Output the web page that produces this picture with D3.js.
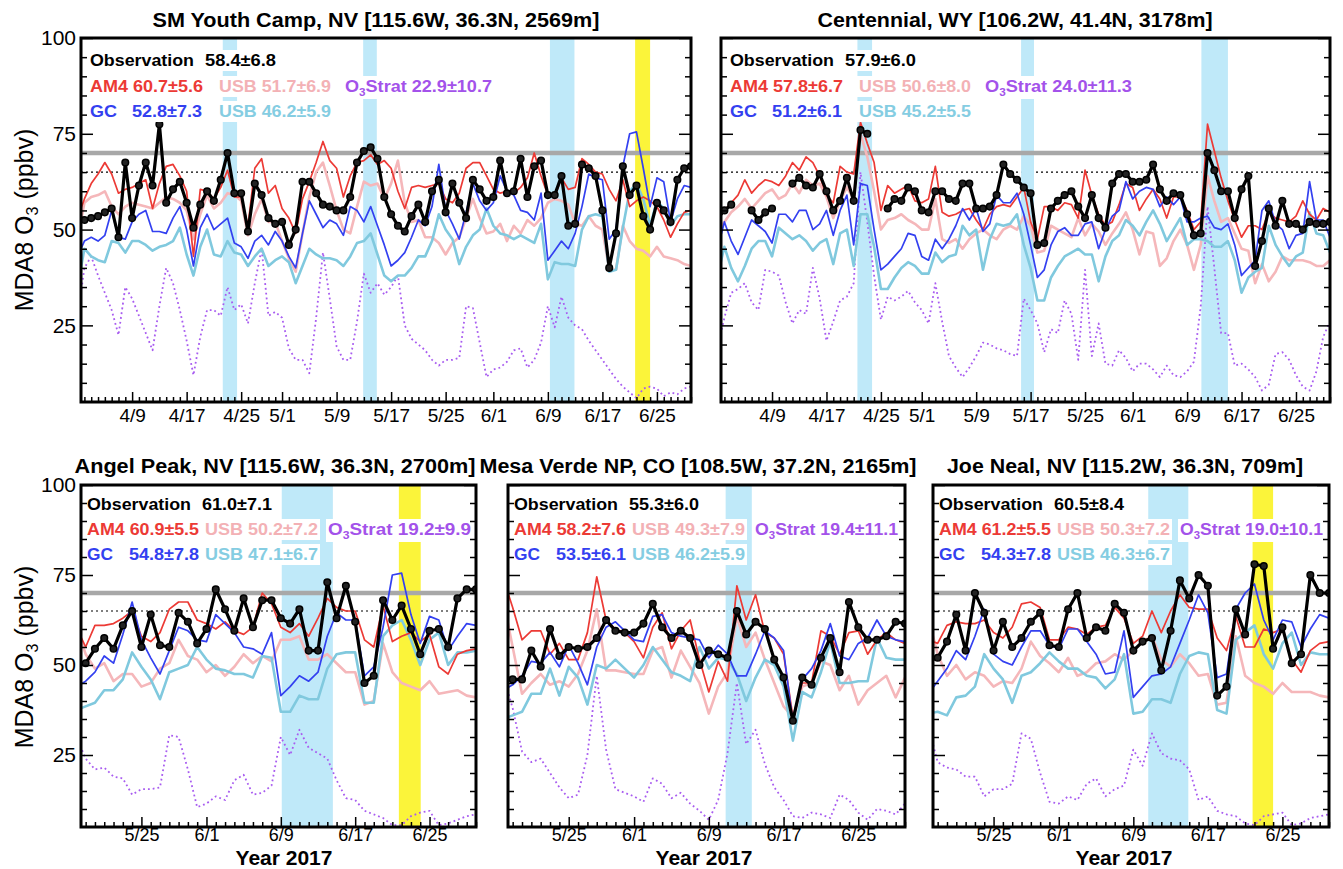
<!DOCTYPE html>
<html>
<head>
<meta charset="utf-8">
<script src="https://cdn.jsdelivr.net/npm/d3@7"></script>
<style>
  body { margin: 0; background: #fff; }
  svg { display: block; }
  text { font-family: "Liberation Sans", Arial, Helvetica, sans-serif; }
</style>
</head>
<body>
<svg id="chart" width="1343" height="869"></svg>
<script>
// ---- Day axes (day of year 2017: 91 = Apr 1, 138 = May 18, 181 = Jun 30) ----
const daysSpring = d3.range(91, 182);
const daysJune = d3.range(138, 182);

const springTickDays = [99, 107, 115, 121, 129, 137, 145, 152, 160, 168, 176];
const springTickLabels = ["4/9", "4/17", "4/25", "5/1", "5/9", "5/17", "5/25", "6/1", "6/9", "6/17", "6/25"];
const juneTickDays = [145, 152, 160, 168, 176];
const juneTickLabels = ["5/25", "6/1", "6/9", "6/17", "6/25"];
const yTickValues = [25, 50, 75, 100];

// ---- SM Youth Camp, NV (Apr 1 - Jun 30) ----
const smObs = [52, 52.5, 53, 53.5, 54.5, 55.5, 48, 67.5, 53, 61.5,
  67.5, 61.5, 77.5, 57, 60.5, 62.5, 57, 50.5, 56.5, 60,
  57.5, 63, 70, 59.5, 59.5, 49.5, 62, 59, 53, 51.5,
  52, 46, 50, 62.5, 62.5, 59.5, 56.5, 56, 55, 55,
  58.5, 67.5, 70.5, 71.5, 68.5, 58.5, 54, 51, 49.5, 53.5,
  56.5, 52, 60, 63, 54.5, 62, 57, 53, 63, 60.5,
  57.5, 58.5, 68, 59.5, 60, 68.5, 58.5, 66.5, 68, 59,
  59, 64, 51, 51.5, 67, 66, 64, 55, 40, 49,
  66.5, 59, 61.5, 53.5, 50, 57, 55, 52, 63, 66, 66.5];
const smAM4 = [53, 58, 62, 64.5, 67.5, 64.5, 59.5, 60.5, 61, 62,
  63, 55.5, 62, 66.5, 67, 64, 60, 43, 60.5, 60,
  58, 61, 65.5, 58.5, 58.5, 51, 66, 68.5, 59.5, 61.5,
  55.5, 53, 49, 58, 62.5, 67.5, 73, 68, 66, 58.5,
  64, 67.5, 68, 69.5, 67, 68, 66, 60, 55.5, 61,
  61.5, 61, 61.5, 62, 58, 57, 59.5, 66, 67.5, 67.5,
  64, 60.5, 59.5, 60, 59.5, 61, 63.5, 70, 64, 59,
  58.5, 63.5, 60.5, 61, 68.5, 67, 65, 64.5, 60.5, 57.5,
  63, 56, 57.5, 58.5, 57.5, 56, 52.5, 48, 51.5, 54.5, 55];
const smAM4USB = [47.5, 57, 58.5, 59, 60, 56, 54, 56, 57, 56.5,
  56, 55.5, 57, 58.5, 58, 57, 55, 47.5, 54, 59,
  55.5, 57, 59.5, 59, 57.5, 48.5, 54, 58, 52, 52,
  47, 42.5, 39, 49, 58.5, 65, 67.5, 61.5, 55, 50,
  49, 56, 62.5, 61.5, 62, 58, 62, 68, 57, 52,
  52.5, 48, 48, 46.5, 43.5, 46.5, 48, 53, 58, 53,
  49, 49.5, 51.5, 47, 51, 49, 52.5, 51, 53, 57,
  58, 57.5, 56.5, 51.5, 51, 53.5, 51, 50, 39.5, 39.5,
  51, 47, 45, 44.5, 43, 45.5, 43, 42.5, 42, 41, 40.5];
const smGC = [43, 47, 48, 47, 48.5, 55, 48, 47.5, 52, 54,
  55, 49.5, 49.5, 49, 53, 56, 50, 40.5, 50.5, 54,
  50, 51.5, 53, 46.5, 45.5, 42.5, 47, 48.5, 46, 49.5,
  47, 43, 40, 49, 57.5, 54, 50.5, 52.5, 51.5, 48.5,
  56, 55, 52, 56, 51, 46, 40.5, 42, 44, 48,
  52.5, 51, 56, 67, 55, 51.5, 47.5, 54.5, 62, 57.5,
  55, 57, 64, 60, 59, 55, 54.5, 52.5, 59.5, 42,
  44.5, 47, 45, 49, 56, 64.5, 63.5, 63, 47.5, 50,
  66.5, 75, 75.5, 66, 56, 63.5, 62.5, 52, 58, 61.5, 61];
const smGCUSB = [35, 45, 43, 42, 41.5, 47, 46.5, 44, 47, 47,
  46, 44.5, 45.5, 46, 47, 50.5, 43.5, 38, 45.5, 50,
  43.5, 43, 47, 44, 43.5, 40.5, 43, 45, 40.5, 42,
  43, 41.5, 36, 40.5, 45, 43.5, 42.5, 42.5, 42, 40.5,
  43, 46.5, 47, 49, 43.5, 38, 36.5, 38, 38, 40,
  43, 43, 47, 54, 50, 47.5, 41, 45.5, 48.5, 50,
  55.5, 51, 49, 48.5, 47.5, 48.5, 47.5, 46.5, 51.5, 37,
  41.5, 41, 41, 40.5, 50, 53.5, 54, 53.5, 39, 39.5,
  50.5, 60, 62, 58, 51, 57.5, 55.5, 51, 53.5, 54, 54];
const smStrat = [27, 40, 43, 38, 33.5, 29, 22.5, 35, 32, 27.5,
  23, 18.5, 30, 40, 36, 29, 21, 12, 22, 29,
  29, 27.5, 35, 29, 30.5, 25.5, 36, 45, 27.5, 28.5,
  27, 19, 16, 16, 12.5, 27, 44, 32, 19.5, 16,
  16, 26, 38.5, 33.5, 36, 33, 35, 38, 25, 21.5,
  20, 18.5, 16, 14.5, 16, 16, 16.5, 30, 29.5, 20.5,
  11.5, 13.5, 14, 15.5, 18.5, 19, 14, 16, 20.5, 30,
  24.5, 32.5, 27, 25, 24, 21, 18.5, 16, 13.5, 11,
  9, 7.5, 6, 8.5, 9, 8.5, 6.5, 7.5, 7, 8.5, 9];
const smStats = ["58.4±6.8", "60.7±5.6", "51.7±6.9", "22.9±10.7", "52.8±7.3", "46.2±5.9"];
const smBlueSpans = [[112.3, 114.4], [132.9, 134.9], [160.3, 163.9]];
const smYellowSpans = [[172.8, 175]];

// ---- Centennial, WY (Apr 1 - Jun 30) ----
const cenObs = [53, 55, 56.5, null, null, 55, 52.5, 54.5, 55.5, null,
  null, 62, 63.5, 61.5, 61, 64.5, 60, 55, 57.5, 63.5,
  57.5, 76, 75, null, null, 55.5, 58, 57.5, 61, 60,
  55, 54.5, 60, 60, 58, 57.5, 62, 62, 55.5, 55.5,
  56, 59, 67, 64.5, 63, 61, 59.5, 46, 46.5, 55.5,
  57.5, 59, 60, 56, 53, 59, 53, 50.5, 62, 64.5,
  64.5, 62.5, 62.5, 63, 67, 60.5, 57.5, 59.5, 59, 54,
  48.5, 49, 70, 65.5, 60, 60, 53, 60.5, 64, 40.5,
  47, 55.5, 51, 57.5, 51.5, 51.5, 50, 52, 51.5, 51.5, 52];
const cenAM4 = [52.5, 55, 57, 59, 63, 59.5, 61.5, 63, 62.5, 61.5,
  64, 67.5, 65.5, 69, 67.5, 64, 59, 57, 66.5, 65,
  64.5, 78, 72.5, 67.5, 55, 61.5, 59.5, 60.5, 61.5, 57.5,
  57, 58, 66.5, 54.5, 53.5, 54, 55, 55.5, 52.5, 50,
  54, 56, 56.5, 56, 58.5, 61, 52, 47.5, 56, 56,
  55, 57, 56.5, 53, 65.5, 59, 54, 51, 52, 56.5,
  62, 61, 55, 58, 60.5, 58, 53, 58.5, 58.5, 55,
  50, 52, 77.5, 70.5, 63.5, 57.5, 52.5, 48, 51, 51,
  50, 54.5, 53, 52.5, 52, 53.5, 57.5, 54, 52.5, 55.5, 54.5];
const cenAM4USB = [49.5, 52, 54.5, 56, 58, 55.5, 57.5, 59.5, 60.5, 58,
  59, 62, 59.5, 63, 61.5, 62, 58.5, 53, 57.5, 61,
  58, 75, 69, 60, 50, 52.5, 53, 54, 52.5, 51.5,
  50, 50, 58, 47.5, 46.5, 47.5, 45, 47.5, 49, 50,
  48.5, 47.5, 50, 51, 50, 53.5, 51, 44, 44.5, 51,
  50, 49, 48, 53, 48.5, 51.5, 49.5, 46, 49, 51.5,
  54.5, 50, 43.5, 49.5, 49, 40.5, 42.5, 47, 50, 46,
  39.5, 46, 64, 57.5, 52, 53, 49, 45, 44.5, 36,
  41, 36.5, 39, 43, 42, 42, 42, 41.5, 40.5, 40.5, 42];
const cenGC = [45, 52, 47, 43.5, 48, 52.5, 51, 49.5, 46.5, 54,
  54, 52, 55, 55, 50, 51.5, 55, 48.5, 55, 59,
  46, 62, 61.5, 50, 39.5, 41, 43, 45, 49, 48.5,
  43, 42, 47.5, 45, 47.5, 51, 55.5, 52.5, 55.5, 49.5,
  51.5, 59, 57, 57, 59.5, 54, 46, 37.5, 39.5, 46,
  49.5, 50.5, 48.5, 48.5, 51.5, 52, 45, 50, 53.5, 55,
  62.5, 58, 60, 61, 60.5, 56, 58.5, 56.5, 58.5, 52,
  52, 53, 53.5, 50.5, 50, 51.5, 46, 38, 40, 42,
  55, 57.5, 51.5, 50, 45, 48.5, 49, 62.5, 52.5, 52.5, 48];
const cenGCUSB = [38, 45.5, 40, 36.5, 40.5, 45, 47, 47, 43, 50.5,
  49, 47.5, 48.5, 47, 44.5, 46.5, 47.5, 41, 49, 50,
  40.5, 54, 54, 45.5, 34.5, 34.5, 37.5, 40, 41.5, 40.5,
  38.5, 38.5, 44, 41.5, 43, 43.5, 51, 48.5, 50, 39.5,
  47.5, 51.5, 51, 51.5, 54, 46, 40, 31.5, 31.5, 37.5,
  40.5, 43, 44, 45, 43.5, 43.5, 36.5, 43, 47, 48.5,
  52.5, 51, 48.5, 52, 55, 51.5, 47, 50, 53, 46,
  47.5, 47.5, 47, 45.5, 45.5, 47, 42, 33.5, 37.5, 39,
  40, 51, 46, 43, 40.5, 43, 44, 54.5, 49, 48.5, 44];
const cenStrat = [19, 27, 33.5, 34.5, 36, 31, 29, 39.5, 39, 38,
  31, 25.5, 29, 28, 40, 32, 21, 26, 31.5, 32.5,
  36, 65, 52, 38, 26.5, 32.5, 31.5, 32.5, 34, 31,
  29, 25.5, 36, 26, 17, 14, 11.5, 14, 17, 20.5,
  20, 19, 18.5, 17.5, 17, 32, 29, 25.5, 18, 24,
  23, 31.5, 28, 16, 39.5, 17, 25.5, 15, 14.5, 18.5,
  16.5, 13, 15, 15, 13.5, 11.5, 14.5, 12, 11.5, 13,
  15.5, 30, 56, 40, 23, 23, 14.5, 15, 13.5, 11.5,
  8, 9.5, 17.5, 18, 16, 12, 9, 8, 13, 22, 26];
const cenStats = ["57.9±6.0", "57.8±6.7", "50.6±8.0", "24.0±11.3", "51.2±6.1", "45.2±5.5"];
const cenBlueSpans = [[111.55, 113.7], [135.6, 137.5], [162.1, 166]];
const cenYellowSpans = [];

// ---- Angel Peak, NV (May 18 - Jun 30) ----
const apObs = [null, 50.5, 54.5, 57.5, 54.5, 61, 65, 55, 64, 55.5,
  55, 64.5, 62, 56, 60, 71, 65.5, 59.5, 68.5, 60.5,
  68, 68, 63, 61.5, 65.5, 54, 54, 73, 63, 72,
  62, 45, 47, 68, 62.5, 66.5, 60, 53, 59.5, 60,
  55, 68.5, 71, 71];
const apAM4 = [60.5, 55, 61, 61, 61.5, 63, 65, 58, 56.5, 59,
  65.5, 67.5, 67.5, 62.5, 61.5, 60, 62, 59.5, 58.5, 60.5,
  70, 67, 60.5, 59, 61.5, 58, 63, 68.5, 66, 65,
  65, 57, 55, 66.5, 56.5, 58, 59, 56.5, 58.5, 49.5,
  47.5, 53, 54, 54.5];
const apAM4USB = [61, 53, 49, 50.5, 45.5, 47.5, 47.5, 44, 45, 49,
  50.5, 57, 52.5, 51.5, 48, 50, 47, 49.5, 53, 50.5,
  52.5, 51, 57, 57, 58, 51.5, 51.5, 53, 50.5, 48,
  48, 39, 40, 56, 48, 45, 44, 43, 45.5, 42,
  42.5, 43, 41.5, 41];
const apGC = [44, 45.5, 48, 52.5, 50.5, 58.5, 67.5, 57, 52, 47.5,
  54, 60.5, 59.5, 57, 56.5, 64, 61.5, 59, 55, 54.5,
  53, 59, 41.5, 44, 47, 45.5, 48, 58, 64.5, 62.5,
  62.5, 47, 49.5, 60.5, 75, 75.5, 64, 56, 63.5, 62.5,
  54, 58, 61.5, 61];
const apGCUSB = [37.5, 38.5, 39.5, 43, 43, 46, 53.5, 49.5, 46, 40.5,
  48, 49, 50, 55, 51.5, 49, 48.5, 47.5, 47.5, 46.5,
  52.5, 52, 37, 37, 41.5, 40.5, 40.5, 49, 53, 53.5,
  53.5, 39.5, 39.5, 58, 61, 62.5, 57, 50, 57, 59,
  50, 53.5, 53.5, 54];
const apStrat = [30, 24, 21, 21.5, 19, 18.5, 14, 15.5, 15.5, 16,
  30.5, 30, 21, 10.5, 11.5, 13.5, 12.5, 18, 19.5, 14,
  14.5, 16.5, 30, 25, 32, 27, 25.5, 24, 18, 13,
  12.5, 9.5, 8.5, 7.5, 5.5, 5.5, 8, 9, 9.5, 5.5,
  6, 7, 8, 8.5];
const apStats = ["61.0±7.1", "60.9±5.5", "50.2±7.2", "19.2±9.9", "54.8±7.8", "47.1±6.7"];
const apBlueSpans = [[160.1, 165.6]];
const apYellowSpans = [[172.7, 175.05]];

// ---- Mesa Verde NP, CO (May 18 - Jun 30) ----
const mvObs = [47, 46, 46, 54, 49.5, 60, 52.5, 55, 54.5, 55,
  57.5, 62.5, 59.5, 59, 59, 61.5, 67, 60.5, 57.5, 59.5,
  57.5, 50, 54, 53, 52, 65, 58.5, 62, 60, 51.5,
  46.5, 34.5, 46.5, 44.5, 52, 57.5, 48, 67.5, 60.5, 57,
  57, 58, 62, 61.5];
const mvAM4 = [74, 66, 57, 59.5, 59.5, 53, 56, 51.5, 51.5, 59,
  74.5, 62.5, 60, 59, 56.5, 52, 60.5, 64.5, 54.5, 59.5,
  62.5, 51.5, 42.5, 51, 45.5, 72, 62.5, 69.5, 59, 57.5,
  53, 35.5, 45, 45, 59.5, 58, 53, 59, 59.5, 53,
  57, 59, 57, 56];
const mvAM4USB = [68, 55, 42, 45, 47.5, 44.5, 45.5, 44, 47.5, 54,
  65.5, 48.5, 48.5, 48, 47.5, 47.5, 54, 55, 46.5, 54,
  49.5, 45, 36.5, 44, 48, 63.5, 55, 59, 51.5, 45,
  38.5, 35.5, 44, 45, 51, 50, 43, 47, 39, 43,
  45, 47, 41, 46.5];
const mvGC = [43, 44.5, 47, 51, 50.5, 53.5, 49.5, 55.5, 50.5, 44.5,
  55, 60.5, 62, 59.5, 57, 56.5, 63.5, 64, 59, 58,
  57.5, 57, 52, 55.5, 53, 47, 47, 53, 59.5, 57.5,
  54, 34, 46, 49, 54, 61.5, 52.5, 51.5, 56, 57.5,
  62.5, 58, 57, 56.5];
const mvGCUSB = [35, 36, 37, 42, 42, 49, 41.5, 49.5, 46.5, 39,
  50, 49, 51.5, 49, 46.5, 50, 55, 51.5, 48, 47,
  45.5, 55, 49, 52, 51.5, 47.5, 40, 46.5, 51.5, 50,
  44, 29, 42.5, 41, 48, 56.5, 45, 45, 45.5, 45.5,
  57.5, 52, 51.5, 51.5];
const mvStrat = [47, 38, 26, 23, 24, 20, 16, 13, 14, 25,
  47, 26.5, 15.5, 14.5, 13.5, 12, 18.5, 17, 13, 14.5,
  11.5, 9.5, 7, 12.5, 25.5, 45, 28, 32, 22.5, 16,
  12.5, 8, 7.5, 9, 8.5, 7.5, 14, 12.5, 9, 7,
  10, 9.5, 8.5, 11.5];
const mvStats = ["55.3±6.0", "58.2±7.6", "49.3±7.9", "19.4±11.1", "53.5±6.1", "46.2±5.9"];
const mvBlueSpans = [[161.8, 164.6]];
const mvYellowSpans = [];

// ---- Joe Neal, NV (May 18 - Jun 30) ----
const jnObs = [51, 52, 56.5, 64, 54, 70, 64.5, 54, 62, 55,
  57.5, 62, 64.5, 55.5, 55, 65.5, 70, 57.5, 60.5, 59.5,
  67, 64.5, 54, 56.5, 57.5, 48.5, 59.5, 73.5, 68.5, 75,
  72, 41.5, 44, 65.5, 58.5, 78, 77.5, 54.5, 60.5, 50.5,
  53, 75, 70, 70];
const jnAM4 = [57, 56, 61, 62, 61.5, 61.5, 62.5, 59, 57.5, 60.5,
  67, 67.5, 66, 57, 57, 60.5, 60, 58.5, 60.5, 61,
  66, 63, 56, 58, 65, 59, 65, 69.5, 66, 65.5,
  65.5, 57.5, 54, 63.5, 55, 55, 60, 59, 60, 51.5,
  48, 54, 56, 56.5];
const jnAM4USB = [63, 53, 47, 50, 46, 48, 47, 44, 45.5, 45,
  49, 56.5, 52.5, 50.5, 48, 52, 47, 48, 50.5, 51,
  53, 51.5, 54, 56.5, 58, 51.5, 49.5, 53, 50.5, 47,
  47.5, 39, 39.5, 58, 47, 45, 44, 42, 45, 42.5,
  42.5, 42.5, 41.5, 41];
const jnGC = [42, 45.5, 49, 54, 51.5, 58, 65.5, 53, 51, 50,
  55, 59.5, 59.5, 55.5, 54.5, 60, 60, 56.5, 53, 47.5,
  48, 59.5, 41, 44, 47, 47.5, 49.5, 56, 62.5, 69.5,
  64.5, 46.5, 47.5, 65.5, 70, 72.5, 62.5, 57, 62.5, 62,
  55, 60, 64, 63];
const jnGCUSB = [36.5, 37, 36, 41, 41.5, 44, 53, 49, 46, 39.5,
  47, 48, 50.5, 53.5, 51, 49, 49, 47, 46.5, 43.5,
  46, 53, 36.5, 37, 40.5, 40.5, 39.5, 47.5, 52.5, 53.5,
  53, 37.5, 36.5, 57, 59, 61, 53, 49, 56, 59,
  50, 53.5, 53, 53];
const jnStrat = [33, 23, 21.5, 21, 19, 19, 13.5, 15.5, 15.5, 17,
  31, 29.5, 20, 12, 11.5, 13.5, 12.5, 17, 18.5, 13.5,
  15.5, 16.5, 26.5, 22, 31, 25.5, 24, 23.5, 21, 12.5,
  13.5, 9.5, 8.5, 8, 6, 5.5, 8, 8.5, 9, 5.5,
  6, 7.5, 8, 8.5];
const jnStats = ["60.5±8.4", "61.2±5.5", "50.3±7.2", "19.0±10.1", "54.3±7.8", "46.3±6.7"];
const jnBlueSpans = [[161.6, 165.9]];
const jnYellowSpans = [[172.8, 175]];

// ---- Styling ----
const C = {
  obs: "#000000", am4: "#ec3a35", am4usb: "#f5b7ba", gc: "#3340f0",
  gcusb: "#80c9de", strat: "#a85cf0", shadeBlue: "#bfe9f9",
  shadeYellow: "#fbf43a", limit: "#a8a8a8",
  am4usbText: "#f3b1b5", gcusbText: "#85cde2", stratText: "#a352ea", gcText: "#3340f0"
};

// legend layout: offsets from panel's left/top edges and rendered widths
const LEG_TOP = { rows: [28, 54, 79],
  obsL: [9, 104], obsV: [124, 71], am4: [9, 113], am4usb: [138, 112], strat: [264, 147],
  gcL: [9, 27], gcV: [51, 70], gcusb: [138, 112] };
const LEG_BOT = { rows: [25, 50, 75],
  obsL: [6, 104], obsV: [121, 70], am4: [6, 112], am4usb: [124, 113], strat: [247, 143],
  gcL: [6, 26], gcV: [48, 70], gcusb: [124, 113] };

const panels = [
  { id: "sm", title: "SM Youth Camp, NV [115.6W, 36.3N, 2569m]", titleX: 376, titleY: 27, titleW: 447,
    left: 81, right: 691, top: 38, bottom: 402, domain: [91.5, 181], days: daysSpring,
    obs: smObs, am4: smAM4, am4usb: smAM4USB, gc: smGC, gcusb: smGCUSB, strat: smStrat, stats: smStats,
    blue: smBlueSpans, yellow: smYellowSpans, tickDays: springTickDays, tickLabels: springTickLabels,
    yLabels: true, leg: LEG_TOP, ylabY: 220, xTitleX: null, xPad: 7, xFont: 19 },
  { id: "cen", title: "Centennial, WY [106.2W, 41.4N, 3178m]", titleX: 1015, titleY: 27, titleW: 395,
    left: 721, right: 1330, top: 38, bottom: 402, domain: [91.5, 181], days: daysSpring,
    obs: cenObs, am4: cenAM4, am4usb: cenAM4USB, gc: cenGC, gcusb: cenGCUSB, strat: cenStrat, stats: cenStats,
    blue: cenBlueSpans, yellow: cenYellowSpans, tickDays: springTickDays, tickLabels: springTickLabels,
    yLabels: false, leg: LEG_TOP, ylabY: null, xTitleX: null, xPad: 7, xFont: 19 },
  { id: "ap", title: "Angel Peak, NV [115.6W, 36.3N, 2700m]", titleX: 275, titleY: 473, titleW: 401,
    left: 81, right: 476, top: 485, bottom: 827, domain: [138.5, 181], days: daysJune,
    obs: apObs, am4: apAM4, am4usb: apAM4USB, gc: apGC, gcusb: apGCUSB, strat: apStrat, stats: apStats,
    blue: apBlueSpans, yellow: apYellowSpans, tickDays: juneTickDays, tickLabels: juneTickLabels,
    yLabels: true, leg: LEG_BOT, ylabY: 657, xTitleX: 284, xPad: 1.5, xFont: 18 },
  { id: "mv", title: "Mesa Verde NP, CO [108.5W, 37.2N, 2165m]", titleX: 698, titleY: 473, titleW: 437,
    left: 508, right: 905, top: 485, bottom: 827, domain: [138.5, 181], days: daysJune,
    obs: mvObs, am4: mvAM4, am4usb: mvAM4USB, gc: mvGC, gcusb: mvGCUSB, strat: mvStrat, stats: mvStats,
    blue: mvBlueSpans, yellow: mvYellowSpans, tickDays: juneTickDays, tickLabels: juneTickLabels,
    yLabels: false, leg: LEG_BOT, ylabY: null, xTitleX: 704, xPad: 1.5, xFont: 18 },
  { id: "jn", title: "Joe Neal, NV [115.2W, 36.3N, 709m]", titleX: 1125, titleY: 473, titleW: 356,
    left: 933, right: 1329, top: 485, bottom: 827, domain: [138.5, 181], days: daysJune,
    obs: jnObs, am4: jnAM4, am4usb: jnAM4USB, gc: jnGC, gcusb: jnGCUSB, strat: jnStrat, stats: jnStats,
    blue: jnBlueSpans, yellow: jnYellowSpans, tickDays: juneTickDays, tickLabels: juneTickLabels,
    yLabels: false, leg: LEG_BOT, ylabY: null, xTitleX: 1124, xPad: 1.5, xFont: 18 }
];

const svg = d3.select("#chart");
const defs = svg.append("defs");

function drawPanel(p) {
  const x = d3.scaleLinear().domain(p.domain).range([p.left, p.right]);
  const y = d3.scaleLinear().domain([5, 100]).range([p.bottom, p.top]);
  const g = svg.append("g").attr("class", "panel-" + p.id);

  defs.append("clipPath").attr("id", "clip-" + p.id)
    .append("rect").attr("x", p.left).attr("y", p.top)
    .attr("width", p.right - p.left).attr("height", p.bottom - p.top);
  const plot = g.append("g").attr("clip-path", `url(#clip-${p.id})`);

  // threshold reference: 65 ppbv dotted
  plot.append("line")
    .attr("x1", p.left).attr("x2", p.right).attr("y1", y(65)).attr("y2", y(65))
    .attr("stroke", "#000").attr("stroke-width", 1.2).attr("stroke-dasharray", "2,3");

  // event shading
  plot.selectAll("rect.blue").data(p.blue).join("rect").attr("class", "blue")
    .attr("x", d => x(d[0])).attr("width", d => x(d[1]) - x(d[0]))
    .attr("y", p.top).attr("height", p.bottom - p.top).attr("fill", C.shadeBlue);
  plot.selectAll("rect.yellow").data(p.yellow).join("rect").attr("class", "yellow")
    .attr("x", d => x(d[0])).attr("width", d => x(d[1]) - x(d[0]))
    .attr("y", p.top).attr("height", p.bottom - p.top).attr("fill", C.shadeYellow);

  // NAAQS 70 ppbv
  plot.append("line")
    .attr("x1", p.left).attr("x2", p.right).attr("y1", y(70)).attr("y2", y(70))
    .attr("stroke", C.limit).attr("stroke-width", 4.5);

  const line = d3.line().defined(d => d[1] != null).x(d => x(d[0])).y(d => y(d[1]));
  const pairs = vals => p.days.map((d, i) => [d, vals[i]]);

  const series = [
    { vals: p.strat, color: C.strat, w: 1.8, dash: "1.8,3" },
    { vals: p.am4usb, color: C.am4usb, w: 2.6 },
    { vals: p.gcusb, color: C.gcusb, w: 2.6 },
    { vals: p.am4, color: C.am4, w: 1.7 },
    { vals: p.gc, color: C.gc, w: 1.7 },
    { vals: p.obs, color: C.obs, w: 3.2 }
  ];
  series.forEach(s => {
    plot.append("path").datum(pairs(s.vals)).attr("d", line)
      .attr("fill", "none").attr("stroke", s.color).attr("stroke-width", s.w)
      .attr("stroke-linejoin", "round")
      .attr("stroke-dasharray", s.dash || null);
  });
  plot.selectAll("circle.obs").data(pairs(p.obs).filter(d => d[1] != null)).join("circle")
    .attr("class", "obs").attr("cx", d => x(d[0])).attr("cy", d => y(d[1])).attr("r", 3.3)
    .attr("fill", "#222").attr("stroke", "#000").attr("stroke-width", 1.5);

  // legend
  const L = p.leg;
  const lg = g.append("g");
  const items = [
    { row: 0, pos: L.obsL, text: "Observation", color: "#000" },
    { row: 0, pos: L.obsV, text: p.stats[0], color: "#000" },
    { row: 1, pos: L.am4, text: "AM4 " + p.stats[1], color: C.am4 },
    { row: 1, pos: L.am4usb, text: "USB " + p.stats[2], color: C.am4usbText },
    { row: 1, pos: L.strat, strat: true, text: p.stats[3], color: C.stratText },
    { row: 2, pos: L.gcL, text: "GC", color: C.gcText },
    { row: 2, pos: L.gcV, text: p.stats[4], color: C.gcText },
    { row: 2, pos: L.gcusb, text: "USB " + p.stats[5], color: C.gcusbText }
  ];
  items.forEach(it => {
    const t = lg.append("text")
      .attr("x", p.left + it.pos[0]).attr("y", p.top + L.rows[it.row])
      .attr("font-size", 17).attr("font-weight", "bold").attr("fill", it.color);
    if (it.strat) {
      t.append("tspan").text("O");
      t.append("tspan").attr("font-size", 11).attr("dy", 4).text("3");
      t.append("tspan").attr("dy", -4).text("Strat " + it.text);
    } else {
      t.text(it.text);
    }
    t.attr("textLength", it.pos[1]).attr("lengthAdjust", "spacingAndGlyphs");
    const bb = t.node().getBBox();
    lg.insert("rect", () => t.node())
      .attr("x", bb.x - 2).attr("y", bb.y - 1).attr("width", bb.width + 4).attr("height", bb.height + 2)
      .attr("fill", "#fff");
  });

  // axes
  const tickStyle = sel => {
    sel.select(".domain").remove();
    sel.selectAll(".tick line").attr("stroke", "#000").attr("stroke-width", 1.5);
  };
  const minorY = d3.range(10, 100, 5).filter(v => v % 25 !== 0);
  g.append("g").attr("transform", `translate(${p.left},0)`)
    .call(d3.axisLeft(y).tickValues(minorY).tickSize(-6).tickFormat("")).call(tickStyle);
  g.append("g").attr("transform", `translate(${p.right},0)`)
    .call(d3.axisRight(y).tickValues(minorY).tickSize(-6).tickFormat("")).call(tickStyle);
  const yl = g.append("g").attr("transform", `translate(${p.left},0)`)
    .call(d3.axisLeft(y).tickValues(yTickValues).tickSize(-12).tickPadding(5)
      .tickFormat(p.yLabels ? d3.format("d") : "")).call(tickStyle);
  yl.selectAll(".tick text").attr("font-size", 21).attr("fill", "#000")
    .attr("font-family", '"Liberation Sans", Arial, sans-serif');
  g.append("g").attr("transform", `translate(${p.right},0)`)
    .call(d3.axisRight(y).tickValues(yTickValues).tickSize(-12).tickFormat("")).call(tickStyle);

  const minorX = d3.range(Math.ceil(p.domain[0]), Math.floor(p.domain[1]) + 1)
    .filter(d => !p.tickDays.includes(d));
  g.append("g").attr("transform", `translate(0,${p.bottom})`)
    .call(d3.axisBottom(x).tickValues(minorX).tickSize(-5).tickFormat("")).call(tickStyle);
  const xl = g.append("g").attr("transform", `translate(0,${p.bottom})`)
    .call(d3.axisBottom(x).tickValues(p.tickDays).tickSize(-10).tickPadding(p.xPad)
      .tickFormat((d, i) => p.tickLabels[i])).call(tickStyle);
  xl.selectAll(".tick text").attr("font-size", p.xFont).attr("fill", "#000")
    .attr("font-family", '"Liberation Sans", Arial, sans-serif');

  // frame
  g.append("rect").attr("x", p.left).attr("y", p.top)
    .attr("width", p.right - p.left).attr("height", p.bottom - p.top)
    .attr("fill", "none").attr("stroke", "#000").attr("stroke-width", 3);

  // title
  g.append("text").attr("x", p.titleX).attr("y", p.titleY).attr("text-anchor", "middle")
    .attr("font-size", 20).attr("font-weight", "bold").attr("fill", "#000")
    .attr("textLength", p.titleW).attr("lengthAdjust", "spacingAndGlyphs")
    .text(p.title);

  // y-axis title
  if (p.ylabY != null) {
    const yt = g.append("text")
      .attr("transform", `translate(${33},${p.ylabY}) rotate(-90)`)
      .attr("text-anchor", "middle").attr("font-size", 25).attr("fill", "#000");
    yt.append("tspan").text("MDA8 O");
    yt.append("tspan").attr("font-size", 16).attr("dy", 5).text("3");
    yt.append("tspan").attr("dy", -5).text(" (ppbv)");
  }
  if (p.xTitleX != null) {
    g.append("text").attr("x", p.xTitleX).attr("y", 864.5).attr("text-anchor", "middle")
      .attr("font-size", 21).attr("font-weight", "bold").attr("fill", "#000").text("Year 2017");
  }
}

panels.forEach(drawPanel);
</script>
</body>
</html>
